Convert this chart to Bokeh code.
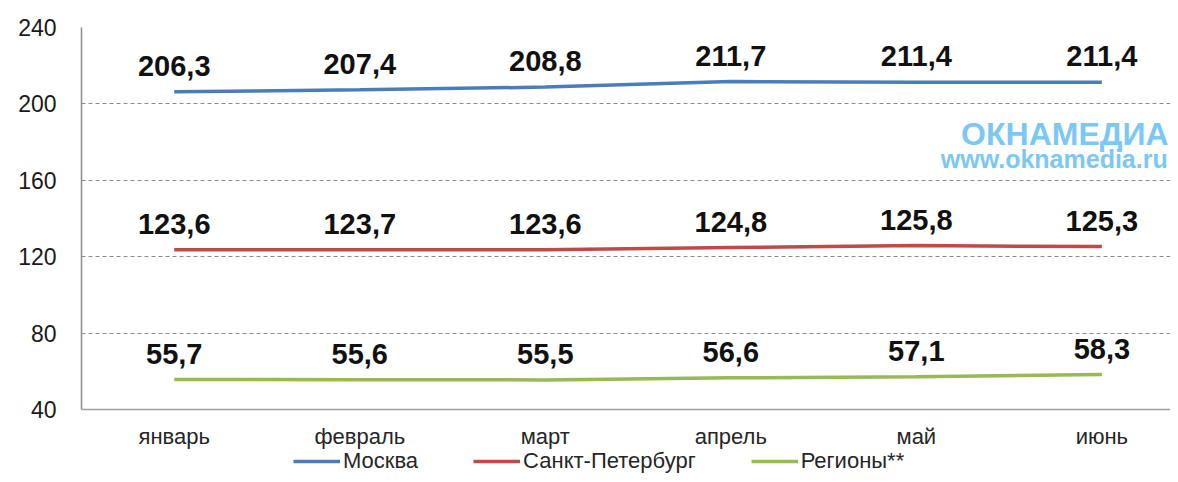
from bokeh.plotting import figure
from bokeh.models import (ColumnDataSource, FixedTicker, Legend, LegendItem, Label,
                          Range1d, Span)
from bokeh.core.properties import value
from bokeh.embed import file_html
from bokeh.resources import INLINE

months = ["январь", "февраль", "март", "апрель", "май", "июнь"]
moscow = [206.3, 207.4, 208.8, 211.7, 211.4, 211.4]
spb = [123.6, 123.7, 123.6, 124.8, 125.8, 125.3]
regions = [55.7, 55.6, 55.5, 56.6, 57.1, 58.3]
series_names = ["Москва", "Санкт-Петербург", "Регионы**"]
colors = ["#4A7EBB", "#BE4B48", "#98B954"]
y_ticks = [40, 80, 120, 160, 200, 240]

FONT = "Liberation Sans"
xs = list(range(len(months)))
Y_MIN, Y_MAX = 40, 240

# frame runs to the bottom edge; the value axis stops at Y_MIN
p = figure(width=1170, height=474, output_backend="svg", toolbar_location=None,
           x_range=Range1d(-0.5, 5.37), y_range=Range1d(5.97, Y_MAX),
           x_axis_location=None,
           min_border_left=81, min_border_right=0, min_border_top=27,
           min_border_bottom=0)
p.outline_line_color = None
p.background_fill_color = "white"
p.border_fill_color = "white"

# grid
p.xgrid.grid_line_color = None
p.ygrid.grid_line_color = "#8C8C8C"
p.ygrid.grid_line_dash = "4 3"
p.ygrid.grid_line_width = 1

# value axis
p.yaxis.ticker = FixedTicker(ticks=y_ticks)
p.yaxis.bounds = (Y_MIN, Y_MAX)
p.yaxis.major_tick_line_color = None
p.yaxis.major_tick_out = 0
p.yaxis.minor_tick_line_color = None
p.yaxis.axis_line_color = "#8C8C8C"
p.yaxis.axis_line_width = 1.5
p.yaxis.major_label_text_font = FONT
p.yaxis.major_label_text_font_size = "23px"
p.yaxis.major_label_text_color = "#1a1a1a"
p.yaxis.major_label_standoff = 25

# category axis line and labels at the bottom of the value range
p.add_layout(Span(location=Y_MIN, dimension="width", line_color="#A0A0A0",
                  line_width=1.5))
cat_src = ColumnDataSource(dict(x=xs, y=[Y_MIN] * len(xs), lab=months))
p.text("x", "y", text="lab", source=cat_src, y_offset=27,
       text_font=value(FONT), text_font_size="22px", text_align="center",
       text_baseline="middle", text_color="#262626")

items = []
for name, vals, col in zip(series_names, [moscow, spb, regions], colors):
    src = ColumnDataSource(dict(x=xs, y=vals,
                                lab=[f"{v:.1f}".replace(".", ",") for v in vals]))
    r = p.line("x", "y", source=src, line_color=col, line_width=3.5)
    p.text("x", "y", text="lab", source=src, y_offset=-26,
           text_font=value(FONT), text_font_style="bold",
           text_font_size="29px", text_align="center",
           text_baseline="middle", text_color="#111111")
    items.append(LegendItem(label=name, renderers=[r]))

legend = Legend(items=items, orientation="horizontal", location=(212, 0),
                glyph_width=47, glyph_height=18, label_standoff=3, spacing=55,
                label_height=18,
                label_text_font=FONT, label_text_font_size="22px",
                label_text_color="#262626", border_line_color=None,
                background_fill_alpha=0, padding=2, margin=0)
p.add_layout(legend, "center")

# watermark
p.add_layout(Label(x=5.36, y=184.5, text="ОКНАМЕДИА", text_align="right",
                   text_baseline="middle", text_font=FONT, text_font_style="bold",
                   text_font_size="32px", text_color="#7CC8F4"))
p.add_layout(Label(x=5.355, y=171.4, text="www.oknamedia.ru", text_align="right",
                   text_baseline="middle", text_font=FONT, text_font_style="bold",
                   text_font_size="25px", text_color="#7CC8F4"))

open("out.html", "w").write(file_html(p, INLINE))
